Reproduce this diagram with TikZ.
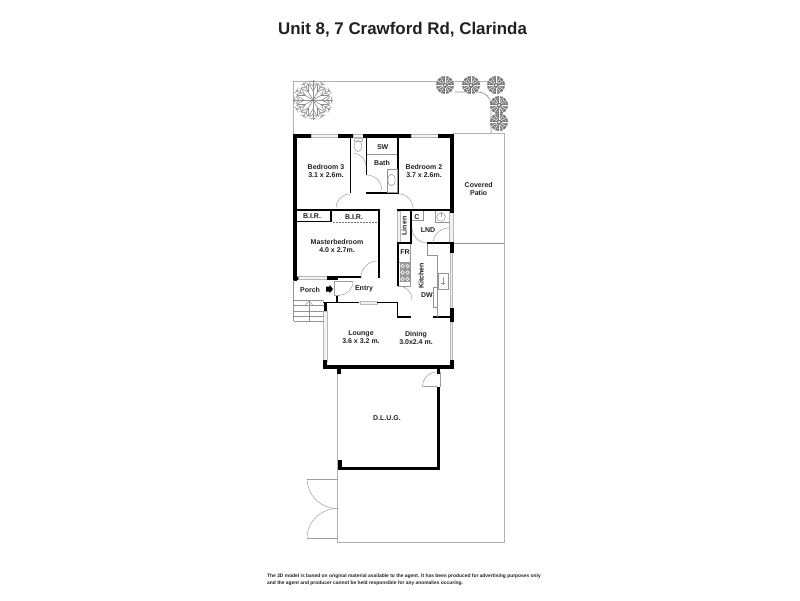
\documentclass[tikz,border=0pt]{standalone}
\usepackage{fontspec}
\setmainfont{Liberation Sans}
\usepackage{tikz}
\usetikzlibrary{arrows}
\definecolor{inkgrey}{gray}{0.13}
\tikzstyle{wall} = [line width=3.6pt,black]
\tikzstyle{inwall} = [line width=1.7pt,black]
\tikzstyle{plot} = [line width=1pt,black!30]
\tikzstyle{fixture} = [line width=0.5pt,black!42]
\tikzstyle{swing} = [line width=0.5pt,black!38]
\tikzstyle{glass} = [line width=0.4pt,black!28,fill=black!5]
\tikzstyle{branch} = [black!45,line width=0.6pt]
\tikzstyle{room} = [font=\bfseries\fontsize{7}{8}\selectfont,text=inkgrey,align=center,inner sep=0pt]

\begin{document}
\begin{tikzpicture}[x=1pt,y=-1pt]
\useasboundingbox (0,0) rectangle (800,600);
\fill[white] (0,0) rectangle (800,600);

\node[font=\bfseries\fontsize{16.9}{20}\selectfont,text=inkgrey] (title) at (402.5,30) {Unit 8, 7 Crawford Rd, Clarinda};

% block outline
\draw[plot] (293.5,134) -- (293.5,81) -- (488,81);
\draw[fixture,line width=0.7pt] (455,92) -- (478,92) to[bend left=45] (491,105) -- (491,133);
\draw[plot] (453,133) -- (504,133) -- (504,542.5) -- (337.7,542.5) -- (337.7,369);
\draw[fixture] (453,243) -- (504,243);

% trees
\foreach \x/\y in {445/85,471/85,496/85,499/105,499/122}
{
\fill[black!52] (\x,\y) circle (9pt);
\foreach \a in {0,30,...,330}
{
\draw[white,line width=0.5pt] (\x,\y) ++(\a:2.5pt) -- ++(\a:6.8pt);
\fill[white] (\x,\y) ++(\a+15:6.5pt) circle (0.45pt);
}
\fill[white] (\x,\y) circle (1.2pt);
}
\foreach \a in {0,30,...,330}
{
\draw[branch] (313,100) -- ++(\a:20pt);
\draw[branch] (313,100) ++(\a:9pt) -- ++(\a+30:8pt);
\draw[branch] (313,100) ++(\a:9pt) -- ++(\a-30:8pt);
\draw[branch] (313,100) ++(\a:14pt) -- ++(\a+50:5pt);
\draw[branch] (313,100) ++(\a:14pt) -- ++(\a-50:5pt);
\draw[branch] (313,100) ++(\a:18pt) -- ++(\a+70:3.5pt);
\draw[branch] (313,100) ++(\a:18pt) -- ++(\a-70:3.5pt);
}

% windows
\draw[glass] (311,134.5) rectangle (338,137.5);
\draw[glass] (353,134.5) rectangle (363,137.5);
\draw[glass] (411,134.5) rectangle (438,137.5);
\draw[glass] (297,276.5) rectangle (327,279.5);
\draw[glass] (360,301.5) rectangle (377,304);
\draw[glass] (449.5,210) rectangle (453,243);
\draw[glass] (450,253) rectangle (452.5,308);
\draw[glass] (450,322) rectangle (452.5,361);
\draw[glass] (323.5,311) rectangle (327.5,361);
\draw[glass] (397.5,211) rectangle (400,243);

% outer walls
\draw[wall] (295.2,134) -- (295.2,281);
\draw[wall] (293.4,135.8) -- (311,135.8);
\draw[wall] (338,135.8) -- (353,135.8);
\draw[wall] (363,135.8) -- (411,135.8);
\draw[wall] (438,135.8) -- (453.5,135.8);
\draw[wall] (451.7,134) -- (451.7,213);
\draw[wall] (451.7,242) -- (451.7,253);
\draw[wall] (451.7,308) -- (451.7,322);
\draw[wall] (323,367) -- (453.5,367);
\draw[wall] (325,360) -- (325,367);
\draw[wall] (451.7,360) -- (451.7,367);
\draw[wall] (339,367) -- (339,374);
\draw[wall] (438.5,367) -- (438.5,374);
\draw[wall] (438.5,387) -- (438.5,470);
\draw[wall] (338,468.3) -- (440.3,468.3);
\draw[wall] (339.8,460) -- (339.8,470);
\draw[wall] (293.4,278.5) -- (298,278.5);
\draw[wall] (327,278) -- (338,278);
\draw[wall] (325.5,302) -- (325.5,311);

% inner walls
\draw[inwall] (350.5,135) -- (350.5,193);
\draw[inwall] (366.5,135) -- (366.5,175);
\draw[inwall] (366,192.7) -- (399,192.7);
\draw[inwall] (398.2,135) -- (398.2,193);
\draw[inwall] (293,210.2) -- (380,210.2);
\draw[inwall] (297,221.6) -- (332,221.6);
\draw[inwall] (331.2,210) -- (331.2,222.4);
\draw[inwall] (379,210) -- (379,278);
\draw[inwall] (338,277.3) -- (361,277.3);
\draw[inwall] (397,210.2) -- (453,210.2);
\draw[inwall] (411.2,210) -- (411.2,244);
\draw[inwall] (397,243.2) -- (412,243.2);
\draw[inwall] (398,243) -- (398,286);
\draw[inwall] (427,243.2) -- (452,243.2);
\draw[inwall] (323,302.6) -- (359,302.6);
\draw[inwall] (377,302.6) -- (398,302.6);
\draw[inwall] (397.4,302) -- (397.4,317.6);
\draw[inwall] (397,316.8) -- (411,316.8);
\draw[inwall] (433,316.8) -- (452,316.8);
\draw[inwall] (336.7,295) -- (336.7,302);
\draw[black!55,dash pattern=on 1.5pt off 1.5pt,line width=0.5pt] (333,222) -- (377,222);

% doors
\draw[swing] (350,194) to[bend right=45] (336,208);
\draw[swing] (398,194) to[bend left=45] (413,208);
\draw[swing] (353,153) to[bend left=45] (366,167);
\draw[swing] (366.7,175) to[bend left=45] (381.7,190);
\draw[swing] (412,227) to[bend right=45] (427,243);
\draw[swing] (450,228) to[bend right=45] (433,243);
\draw[swing] (377,261) to[bend right=45] (361,278);
\draw[swing] (353,281) to[bend left=45] (340,295);
\draw[swing] (334.5,281) -- (334.5,295) -- (340,295);
\draw[swing] (334.5,281) -- (353,281);
\draw[swing] (399,286) to[bend left=45] (412,300);
\draw[swing] (422.5,386.5) -- (437,386.5) (440,372) -- (440,386.5);
\draw[swing] (422.5,386.5) to[bend left=45] (437,372);
\draw[swing] (307,479) -- (338,479);
\draw[swing] (307,538) -- (338,538);
\draw[swing] (307,479) to[bend right=45] (338,508.5);
\draw[swing] (307,538) to[bend left=45] (338,508.5);

% porch stairs
\draw[fixture] (293.5,280) -- (293.5,321);
\draw[fixture] (298,276) -- (298,280);
\foreach \y in {300,305.5,311,316,321}
{
\draw[fixture] (293.5,\y) -- (324,\y);
}
\draw[fixture] (309,321) -- (309,301);
\draw[fixture] (305,305.5) -- (309,300.5) -- (313,305.5);
\fill[black] (326,286.5) -- (329.5,286.5) -- (329.5,284.5) -- (333,289) -- (329.5,293.5) -- (329.5,291.5) -- (326,291.5) -- cycle;

% bath
\draw[glass,fill=white] (354,138) rectangle (362,141);
\draw[fixture] (358,146) ellipse (4pt and 5.5pt);
\draw[fixture] (367,154) -- (397,154);
\draw[fixture] (387,169) rectangle (397,192);
\draw[fixture] (391.5,180) ellipse (3.6pt and 5.8pt);

% laundry and kitchen
\draw[fixture] (411.5,220) -- (423,220) -- (423,211);
\draw[fixture] (435,211) -- (435,222) -- (450,222);
\draw[fixture] (441,217) circle (4.3pt);
\draw[fixture] (441,212) -- (441,217);
\draw[fixture] (427,244) -- (427,255) -- (437,255) -- (437,317);
\draw[fixture] (438,273) rectangle (448,289);
\draw[fixture] (443,277) -- (443,285);
\draw[fixture] (441,283.5) -- (445,283.5);
\draw[fixture] (433,287) rectangle (437,307);
\draw[fixture] (410.5,244) -- (410.5,286) -- (398,286);
\draw[fixture] (399,262) -- (410,262);
\fill[black!40] (400,263) rectangle (410,282);
\foreach \x in {402.5,407.5}
\foreach \y in {266,272.5,279}
{
\draw[white,line width=0.5pt] (\x,\y) circle (1.7pt);
}

% labels
\node[room] (bedroomthree) at (326,171) {Bedroom 3\\3.1 x 2.6m.};
\node[room] (bedroomtwo) at (424,171) {Bedroom 2\\3.7 x 2.6m.};
\node[room] (patio) at (478.7,189) {Covered\\Patio};
\node[room] (sw) at (382.7,146.7) {SW};
\node[room] (bath) at (382,162.7) {Bath};
\node[room] (birone) at (312,215.7) {B.I.R.};
\node[room] (birtwo) at (354,216.7) {B.I.R.};
\node[room,rotate=90] (linen) at (404,226) {Linen};
\node[room] (cupboard) at (417,217) {C};
\node[room] (laundry) at (428,230) {LND};
\node[room] (master) at (337,245.5) {Masterbedroom\\4.0 x 2.7m.};
\node[room] (fridge) at (405,252) {FR};
\node[room,rotate=90] (kitchen) at (421,276) {Kitchen};
\node[room] (dishwasher) at (427,295) {DW};
\node[room] (porch) at (310,290) {Porch};
\node[room] (entry) at (364,289) {Entry};
\node[room] (lounge) at (361,337) {Lounge\\3.6 x 3.2 m.};
\node[room] (dining) at (416,338) {Dining\\3.0x2.4 m.};
\node[room] (garage) at (387,418) {D.L.U.G.};

\node[font=\bfseries\fontsize{4.9}{7.2}\selectfont,text=inkgrey,align=left,anchor=north west,inner sep=0pt] (disclaimer) at (267,573.5) {The 2D model is based on original material available to the agent. It has been produced for advertising purposes only\\and the agent and producer cannot be held responsible for any anomalies occuring.};
\end{tikzpicture}
\end{document}
